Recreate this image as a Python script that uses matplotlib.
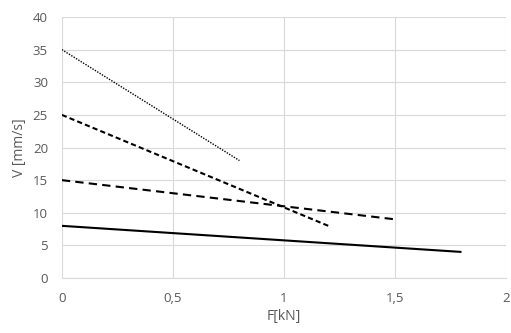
import matplotlib.pyplot as plt
from matplotlib.ticker import FuncFormatter

plt.rcParams['font.family'] = ['Open Sans', 'DejaVu Sans']

# data: (start, end) of each line
solid_x = [0, 1.8]
solid_y = [8, 4]
dash_long_x = [0, 1.5]
dash_long_y = [15, 9]
dash_x = [0, 1.2]
dash_y = [25, 8]
dot_x = [0, 0.8]
dot_y = [35, 18]

fig = plt.figure(figsize=(5.11, 3.33), dpi=100)
ax = fig.add_axes([0.121, 0.165, 0.869, 0.784])

ax.plot(solid_x, solid_y, color='black', lw=1.5, solid_capstyle='butt')
ax.plot(dash_long_x, dash_long_y, color='black', lw=1.5, dashes=(4, 2.5))
ax.plot(dash_x, dash_y, color='black', lw=1.5, dashes=(2.5, 1.5))
ax.plot(dot_x, dot_y, color='black', lw=1.0, dashes=(1, 1))

ax.set_xlim(0, 2)
ax.set_ylim(0, 40)
ax.set_xticks([0, 0.5, 1, 1.5, 2])
ax.set_yticks(range(0, 41, 5))
ax.xaxis.set_major_formatter(FuncFormatter(lambda v, p: ('%g' % v).replace('.', ',')))

ax.grid(True, color='#d9d9d9', lw=0.8)
ax.set_axisbelow(True)
for s in ['top', 'right', 'left']:
    ax.spines[s].set_visible(False)
ax.spines['bottom'].set_color('#d9d9d9')
ax.tick_params(length=0, colors='#595959', labelsize=9.5)
ax.tick_params(axis='y', pad=10)
ax.tick_params(axis='x', pad=10)

ax.set_xlabel('F[kN]', color='#595959', fontsize=10, labelpad=3)
ax.set_ylabel('V [mm/s]', color='#595959', fontsize=10, labelpad=4)

plt.savefig('out.png', dpi=100)
